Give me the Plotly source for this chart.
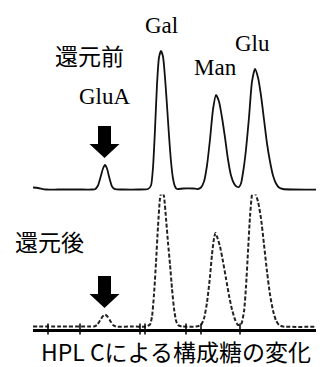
import plotly.graph_objects as go

# Retention time (arbitrary units) and detector response, before reduction (solid)
t_before = [0.0, 0.5, 1.3, 2.5, 4.5, 5.9, 6.2, 6.5, 6.8, 7.0, 7.2, 7.4, 7.6, 7.9, 8.2, 9.0, 10.5,
            11.5, 11.8, 12.0, 12.2, 12.4, 12.6, 12.8, 13.0, 13.2, 13.4, 13.6, 13.8, 14.0, 14.2, 14.4,
            15.0, 16.0, 16.5, 16.8, 17.1, 17.4, 17.7, 18.0, 18.3, 18.6, 18.9, 19.2, 19.5, 19.8, 20.1,
            20.35, 20.6, 20.8, 21.05, 21.3, 21.6, 21.9, 22.2, 22.5, 22.8, 23.1, 23.4, 23.7, 24.0,
            24.3, 24.6, 25.0, 26.0, 29.9]
sig_before = [2, 1.5, 0, 0, 0, 0, 0.3, 4, 14, 21, 24.5, 21, 13, 3, 0.3, 0, 0,
              0.5, 4, 22, 60, 105, 132, 138.5, 133, 112, 84, 54, 28, 11, 3, 0.5,
              1, 1, 0.5, 2, 8, 24, 50, 80, 94.5, 88, 72, 52, 30, 14, 6,
              3, 2.5, 6, 20, 40, 72, 108, 120.5, 112, 94, 70, 46, 28, 14,
              6, 2, 0.5, 0, 0]

# After reduction (dashed)
t_after = [0.0, 2.5, 5.5, 6.1, 6.4, 6.7, 7.0, 7.2, 7.4, 7.7, 8.0, 8.3, 10.0, 11.3,
           11.7, 11.9, 12.1, 12.3, 12.5, 12.7, 12.9, 13.1, 13.3, 13.5, 13.7, 13.9, 14.1, 14.3, 14.5,
           14.9, 16.3, 16.8, 17.1, 17.4, 17.7, 17.9, 18.1, 18.25, 18.4, 18.7, 19.0, 19.3, 19.6, 19.9,
           20.2, 20.5, 20.8, 21.1, 21.3, 21.5, 21.7, 21.9, 22.05, 22.2, 22.5, 22.8, 23.1, 23.4,
           23.7, 24.0, 24.3, 24.6, 25.0, 29.9]
sig_after = [0, 0, 0, 0, 1.5, 6, 10.5, 11.8, 10.5, 6, 1.5, 0, 0, 0,
             2, 10, 32, 64, 100, 128, 137.5, 130, 108, 84, 62, 38, 18, 6, 1.5,
             0, 0, 1.5, 8, 24, 50, 72, 88, 93.5, 90, 80, 65, 48, 31, 17,
             7, 1.5, 2, 15, 40, 75, 110, 132, 137, 134, 125, 108, 82, 55,
             32, 16, 6, 1.5, 0, 0]

# Stray tick marks on the time axis
tick_t = [1.5, 4.7, 10.7, 11.2, 15.3, 16.8, 20.7]

peak_names = ["GluA", "Gal", "Man", "Glu"]
peak_t = [7.15, 12.8, 18.25, 21.95]
label_y = [0.760, 0.951, 0.839, 0.904]

fig = go.Figure()
fig.add_trace(go.Scatter(x=t_before, y=sig_before, mode="lines", yaxis="y2",
                         line=dict(color="#111111", width=1.8, shape="spline", smoothing=0.6),
                         hoverinfo="skip"))
fig.add_trace(go.Scatter(x=t_after, y=sig_after, mode="lines", yaxis="y",
                         line=dict(color="#222222", width=2, dash="4px,2px", shape="spline", smoothing=0.6),
                         hoverinfo="skip"))
fig.add_trace(go.Scatter(x=tick_t, y=[-2.5] * len(tick_t), mode="markers", yaxis="y",
                         marker=dict(symbol="line-ns", size=8, line=dict(color="black", width=1.5)),
                         cliponaxis=False, hoverinfo="skip"))

arrow_path = "M0,0 L-15,14 L-6.5,14 L-6.5,32 L6.5,32 L6.5,14 L15,14 Z"
shapes = [
    dict(type="path", xref="x", yref="y2", xsizemode="pixel", ysizemode="pixel",
         xanchor=peak_t[0], yanchor=31.5, path=arrow_path, fillcolor="black", line=dict(width=0)),
    dict(type="path", xref="x", yref="y", xsizemode="pixel", ysizemode="pixel",
         xanchor=peak_t[0], yanchor=18.5, path=arrow_path, fillcolor="black", line=dict(width=0)),
]

lat = dict(family="Liberation Serif", size=23, color="black")
jp = dict(family="Noto Sans CJK JP", size=23, color="black")
annotations = [dict(x=tx, y=ly, xref="x", yref="paper", text=n, showarrow=False, font=lat,
                    xanchor="center", yanchor="middle")
               for n, tx, ly in zip(peak_names, peak_t, label_y)]
annotations += [
    dict(x=5.65, y=0.872, xref="x", yref="paper", text="還元前", showarrow=False, font=jp,
         xanchor="center", yanchor="middle"),
    dict(x=1.65, y=0.365, xref="x", yref="paper", text="還元後", showarrow=False, font=jp,
         xanchor="center", yanchor="middle"),
    dict(x=0.517, y=0.017, xref="paper", yref="paper", text="HPL Cによる構成糖の変化", showarrow=False,
         font=dict(family="Noto Sans CJK JP", size=23, color="black"),
         xanchor="center", yanchor="bottom", borderpad=0),
]

fig.update_layout(
    width=324, height=367, margin=dict(l=0, r=0, t=0, b=0),
    paper_bgcolor="white", plot_bgcolor="white", showlegend=False,
    xaxis=dict(domain=[25 / 324, 1], range=[0, 29.9], showgrid=False, zeroline=False,
               showticklabels=False, ticks="", showline=True, linecolor="black", linewidth=3,
               anchor="y"),
    yaxis=dict(domain=[1 - 321 / 367, 1 - 171 / 367], range=[-2.5, 147.5], visible=False),
    yaxis2=dict(domain=[1 - 186.5 / 367, 1 - 36.5 / 367], range=[-5, 145], visible=False,
                anchor="x"),
    shapes=shapes, annotations=annotations,
)

fig.write_html("out.html")
